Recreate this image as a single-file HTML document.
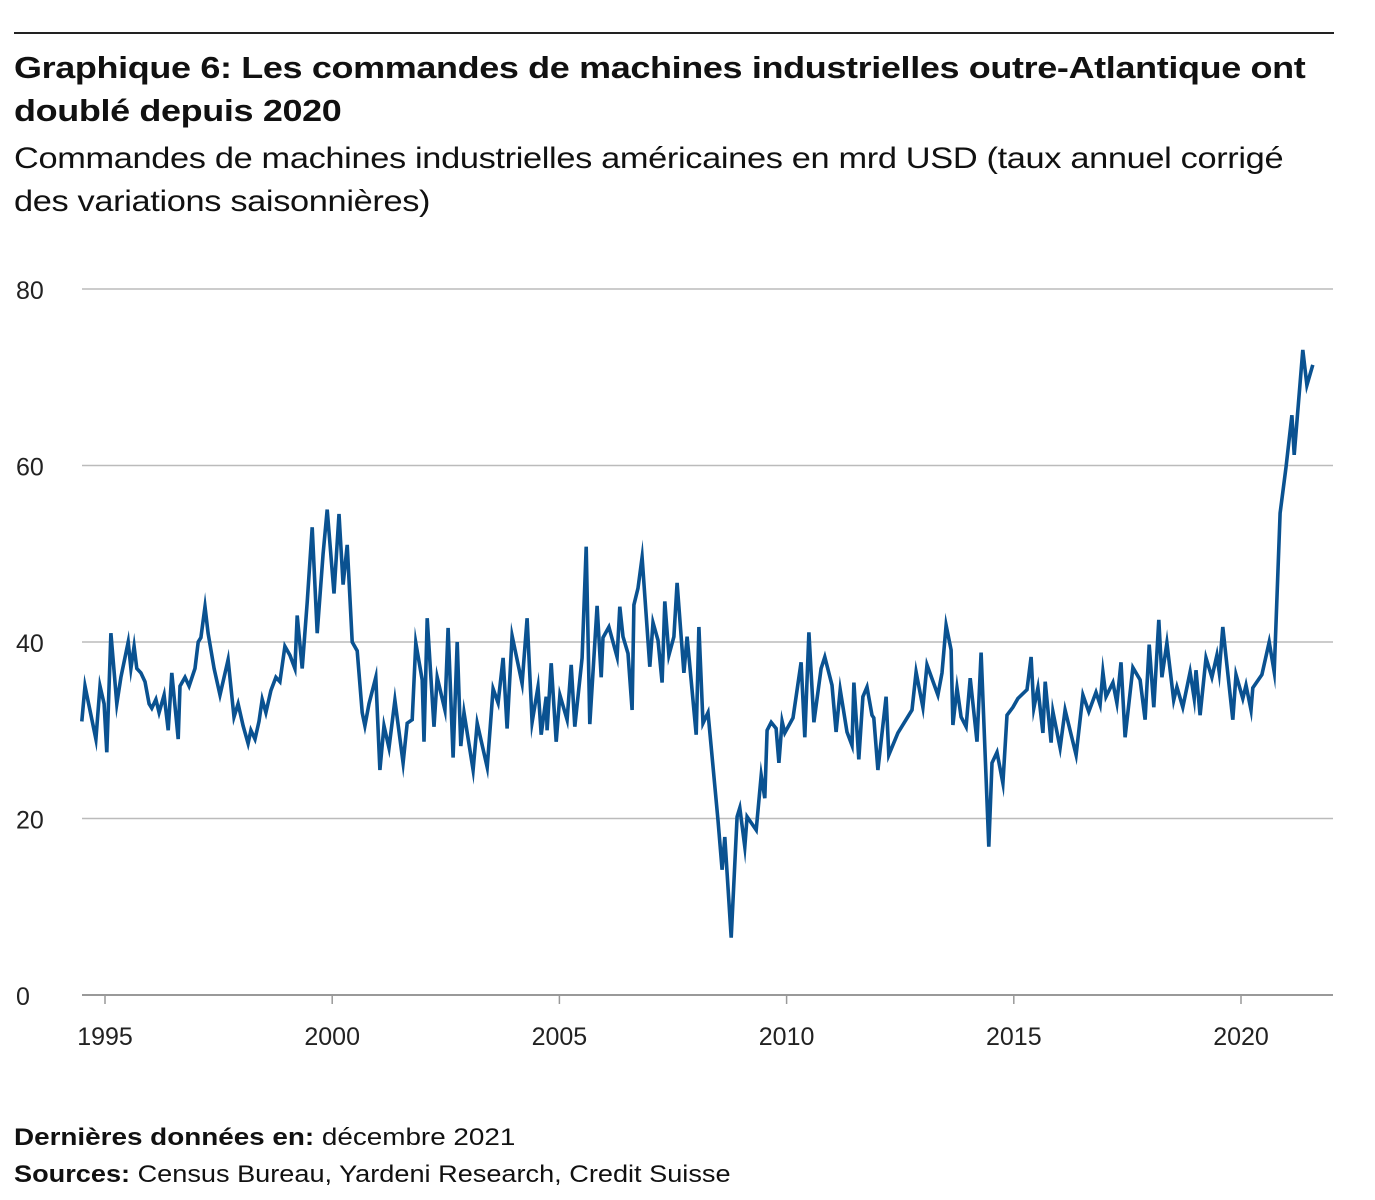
<!DOCTYPE html>
<html><head><meta charset="utf-8"><style>
body{margin:0;background:#fff;font-family:"Liberation Sans",Arial,sans-serif;color:#111}
#wrap{position:relative;width:1375px;height:1200px;overflow:hidden}
.t{position:absolute;left:14px;white-space:nowrap;transform-origin:0 0}
</style></head><body><div id="wrap">
<div style="position:absolute;left:14px;top:32px;width:1320px;height:2px;background:#222"></div>
<div class="t" style="top:46px;font-size:31px;font-weight:bold;line-height:43px;letter-spacing:-0.3px;transform:scaleX(1.16)">Graphique 6: Les commandes de machines industrielles outre-Atlantique ont<br>doublé depuis 2020</div>
<div class="t" style="top:137px;font-size:30px;line-height:43px;letter-spacing:-0.3px;transform:scaleX(1.145)">Commandes de machines industrielles américaines en mrd USD (taux annuel corrigé<br>des variations saisonnières)</div>
<svg id="chart" width="1375" height="1200" style="position:absolute;left:0;top:0"></svg>
<div class="t" style="top:1124px;font-size:24px;transform:scaleX(1.16)"><b>Dernières données en:</b> décembre 2021</div>
<div class="t" style="top:1161px;font-size:24px;transform:scaleX(1.13)"><b>Sources:</b> Census Bureau, Yardeni Research, Credit Suisse</div>
</div>
<script>
const yTicks=[0,20,40,60,80];
const xTicks=[1995,2000,2005,2010,2015,2020];
const dates=[1994.49,1994.56,1994.80,1994.89,1994.98,1995.04,1995.13,1995.26,1995.35,1995.51,1995.57,1995.64,1995.70,1995.79,1995.88,1995.97,1996.03,1996.12,1996.19,1996.30,1996.39,1996.47,1996.61,1996.65,1996.76,1996.85,1996.98,1997.05,1997.11,1997.20,1997.27,1997.40,1997.53,1997.71,1997.84,1997.93,1998.04,1998.15,1998.21,1998.30,1998.39,1998.46,1998.54,1998.65,1998.76,1998.85,1998.96,1999.07,1999.18,1999.23,1999.34,1999.45,1999.56,1999.67,1999.80,1999.89,2000.00,2000.04,2000.15,2000.24,2000.33,2000.44,2000.55,2000.66,2000.72,2000.81,2000.96,2001.05,2001.14,2001.25,2001.38,
2001.56,2001.65,2001.76,2001.84,2001.98,2002.02,2002.09,2002.24,2002.31,2002.48,2002.55,2002.66,2002.75,2002.83,2002.90,2003.10,2003.19,2003.41,2003.54,2003.65,2003.76,2003.85,2003.96,2004.18,2004.29,2004.40,2004.53,2004.60,2004.71,2004.73,2004.82,2004.93,2005.01,2005.17,2005.26,2005.34,2005.50,2005.59,2005.67,2005.83,2005.92,2005.96,2006.09,2006.27,2006.33,2006.40,2006.51,2006.60,2006.64,2006.73,2006.82,2006.99,2007.06,2007.17,2007.26,2007.32,2007.41,2007.52,2007.59,2007.74,2007.81,2008.01,2008.07,2008.16,2008.27,2008.49,2008.58,2008.64,2008.78,2008.91,2008.97,2009.08,2009.13,2009.33,2009.44,2009.52,2009.57,2009.66,2009.77,2009.83,2009.90,2009.96,
2010.14,2010.32,2010.40,2010.49,2010.60,2010.76,2010.84,2011.00,2011.09,2011.18,2011.33,2011.44,2011.48,2011.59,2011.68,2011.77,2011.88,2011.92,2012.01,2012.19,2012.25,2012.45,2012.76,2012.85,2013.00,2013.09,2013.33,2013.42,2013.51,2013.62,2013.66,2013.75,2013.84,2013.95,2014.04,2014.19,2014.28,2014.45,2014.52,2014.63,2014.76,2014.85,2014.98,2015.09,2015.29,2015.38,2015.44,2015.53,2015.64,2015.69,2015.82,2015.86,2016.02,2016.13,2016.37,2016.52,2016.65,2016.81,2016.90,2016.96,2017.03,2017.18,2017.27,2017.36,2017.45,2017.62,2017.78,2017.89,2017.98,2018.08,2018.19,2018.26,2018.37,2018.52,2018.59,2018.72,2018.88,2018.97,2019.01,2019.10,2019.23,2019.36,2019.47,2019.52,2019.60,2019.82,2019.89,2020.04,2020.11,2020.22,2020.26,2020.46,2020.62,2020.73,2020.86,2020.99,2021.12,2021.17,2021.36,2021.45,2021.58];
const values=[31,35,29,35,33,27.5,41,33,36,40,37,39.5,37,36.5,35.5,33,32.5,33.5,32,34,30,36.5,29,35,36,35,37,40,40.5,44,41,37,34,38,31.5,33,30.5,28.5,30,29,31,33.5,32,34.5,36,35.5,39.5,38.5,37,43,37,44.5,53,41,50,55,48,45.5,54.5,46.5,51,40,39,32,30.5,33,36,25.5,30.5,28,33.4,
26.3,30.8,31.2,39.9,35.7,28.7,42.7,30.4,36,32.3,41.6,26.9,40,28.2,32,25.5,30.8,25.8,34.7,33.1,38.2,30.2,40.7,35.3,42.7,30.9,34.9,29.5,33.8,30,37.6,28.7,34,31.2,37.4,30.4,38.2,50.8,30.7,44.1,36,40.5,41.7,38.3,44,40.6,38.7,32.3,44.2,46.1,49.6,37.2,42.2,40.2,35.4,44.6,38.5,40.6,46.7,36.5,40.6,29.5,41.7,30.8,32,19.8,14.2,17.9,6.5,20.2,21.2,16.8,20.2,18.7,24.9,22.3,30,30.9,30.2,26.3,31,29.7,
31.4,37.7,29.2,41.1,30.9,37,38.3,35.1,29.8,34.6,29.8,28.3,35.4,26.7,33.8,34.9,31.7,31.4,25.5,33.8,27.2,29.7,32.3,36.6,32.6,37.4,34,36.5,41.9,39.1,30.6,34.8,31.5,30.4,35.9,28.7,38.8,16.8,26.3,27.5,24,31.7,32.6,33.6,34.6,38.3,32.5,34.8,29.7,35.5,28.6,32.1,28,32.3,27.2,34,32.1,34.3,32.9,36.6,33.8,35.4,33.1,37.7,29.2,37.1,35.7,31.2,39.7,32.6,42.5,36,39.9,33.4,34.9,32.6,36.6,33.6,36.8,31.7,38.2,36,38.5,36.6,41.7,31.2,36.3,33.6,35.1,32.3,34.8,36.3,40,36.6,54.6,59.8,65.7,61.2,73.1,69.1,71.4];
const svg=document.getElementById('chart');const NS='http://www.w3.org/2000/svg';
const X=yr=>105+(yr-1995)*45.44;
const Y=v=>995-v*8.825;
function mk(tag,attrs){const e=document.createElementNS(NS,tag);for(const k in attrs)e.setAttribute(k,attrs[k]);svg.appendChild(e);return e;}
yTicks.forEach(t=>{
 const l=mk('line',{x1:82,x2:1333,y1:Y(t),y2:Y(t),stroke:t===0?'#999':'#bbb','stroke-width':t===0?2:1.5});
 
 
 const tx=mk('text',{x:16,y:Y(t)+10,'font-size':25,fill:'#222','font-family':'Liberation Sans, sans-serif'});tx.textContent=t;
 
 
});
xTicks.forEach(t=>{
 const l=mk('line',{x1:X(t),x2:X(t),y1:995,y2:1004,stroke:'#999','stroke-width':1.5});
 
 
 const tx=mk('text',{x:X(t),y:1045,'font-size':25,fill:'#222','text-anchor':'middle','font-family':'Liberation Sans, sans-serif'});tx.textContent=t;
 
 
});
const pts=dates.map((d,i)=>X(d).toFixed(1)+','+Y(values[i]).toFixed(1)).join(' ');
const pl=mk('polyline',{points:pts,fill:'none',stroke:'#0a5291','stroke-width':3.6,'stroke-linejoin':'miter','stroke-miterlimit':10});


</script></body></html>
